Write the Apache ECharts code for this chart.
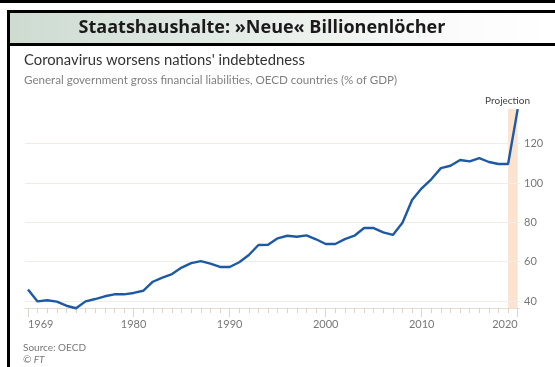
<!DOCTYPE html>
<html><head><meta charset="utf-8">
<script src="https://cdn.jsdelivr.net/npm/echarts@6/dist/echarts.min.js"></script>
<style>html,body{margin:0;padding:0;background:#fff;}#c{width:555px;height:367px;}</style>
</head><body><div id="c"></div>
<script>
var years = [];
for (var yr = 1969; yr <= 2020; yr++) years.push(yr);
var debtPctGDP = [45.9,39.8,40.4,39.7,37.6,36.3,39.8,41.0,42.4,43.4,
  43.4,44.1,45.2,49.8,51.9,53.7,57.0,59.3,60.3,59.0,
  57.3,57.3,59.7,63.4,68.5,68.6,71.9,73.2,72.7,73.4,
  71.4,69.0,69.0,71.5,73.2,77.1,77.1,74.9,73.6,79.8,
  91.4,97.3,101.9,107.6,108.8,111.7,111.0,112.7,110.7,109.7,
  109.7,137.6];
var yTicks = [40, 60, 80, 100, 120];
var xLabelYears = [1969, 1980, 1990, 2000, 2010, 2020];
var projection = [2019, 2020];

var chart = echarts.init(document.getElementById('c'));
var font = 'Lato';
var pts = years.map(function (y, i) { return [y, debtPctGDP[i]]; });
var grid = {left: 25, right: 35, top: 109, bottom: 59};

chart.setOption({
  animation: false,
  backgroundColor: '#fff',
  grid: grid,
  graphic: [
    {type: 'rect', shape: {x: 0, y: 0, width: 555, height: 3}, style: {fill: '#000'}},
    {type: 'rect', shape: {x: 10, y: 13, width: 545, height: 30},
      style: {fill: new echarts.graphic.LinearGradient(0, 0, 1, 0, [
        {offset: 0, color: '#cddbd1'}, {offset: 0.8, color: '#fafbfa'}, {offset: 1, color: '#ffffff'}])}},
    {type: 'rect', shape: {x: 7, y: 10, width: 548, height: 3}, style: {fill: '#000'}},
    {type: 'rect', shape: {x: 7, y: 43, width: 548, height: 3}, style: {fill: '#000'}},
    {type: 'rect', shape: {x: 7, y: 10, width: 3, height: 357}, style: {fill: '#000'}},
    {type: 'text', x: 262, y: 28, style: {text: 'Staatshaushalte: »Neue« Billionenlöcher',
      font: 'bold 18px "Open Sans"', fill: '#1a1a1a', align: 'center', verticalAlign: 'middle'}},
    {type: 'text', x: 24, y: 60, style: {text: "Coronavirus worsens nations' indebtedness",
      font: '14.8px Lato', fill: '#333', verticalAlign: 'middle'}},
    {type: 'text', x: 24, y: 80, style: {text: 'General government gross financial liabilities, OECD countries (% of GDP)',
      font: '11.6px Lato', fill: '#808080', verticalAlign: 'middle'}},
    {type: 'text', x: 530, y: 101, style: {text: 'Projection',
      font: '10px Lato', fill: '#444', align: 'right', verticalAlign: 'middle'}},
    {type: 'text', x: 23, y: 348, style: {text: 'Source: OECD',
      font: '10px Lato', fill: '#777', verticalAlign: 'middle'}},
    {type: 'text', x: 23, y: 360, style: {text: '© FT',
      font: 'italic 10px Lato', fill: '#777', verticalAlign: 'middle'}}
  ],
  xAxis: [{
    type: 'value', min: 1968.69, max: 2020.24, position: 'bottom',
    axisLine: {show: true, lineStyle: {color: '#e6ddd4', width: 1}},
    axisTick: {show: true, length: 5, customValues: years, lineStyle: {color: '#ddd3ca'}},
    axisLabel: {show: false},
    splitLine: {show: false}
  }, {
    type: 'value', min: 1968.69, max: 2020.24, position: 'bottom',
    axisLine: {show: false},
    axisTick: {show: true, length: 9, customValues: xLabelYears, lineStyle: {color: '#ddd3ca'}},
    axisLabel: {show: true, customValues: xLabelYears, margin: 11, color: '#777',
      fontFamily: font, fontSize: 11, alignMinLabel: 'left', alignMaxLabel: 'right',
      formatter: function (v) { return String(Math.round(v)); }},
    splitLine: {show: false}
  }],
  yAxis: {
    type: 'value', min: 36.44, max: 137.66, position: 'right',
    axisLine: {show: false}, axisTick: {show: false},
    axisLabel: {show: true, customValues: yTicks, margin: 4, color: '#777', fontFamily: font, fontSize: 11,
      formatter: function (v) { return String(Math.round(v)); }},
    splitLine: {show: false}
  },
  series: [{
    type: 'line', data: pts, xAxisIndex: 0, showSymbol: false, symbol: 'none', clip: false,
    lineStyle: {color: '#1d5aa3', width: 2.4}, z: 5,
    markArea: {silent: true, itemStyle: {color: '#fce3d0'},
      data: [[{xAxis: projection[0]}, {xAxis: projection[1]}]]},
    markLine: {silent: true, symbol: 'none', label: {show: false},
      lineStyle: {color: '#f1ece7', width: 1, type: 'solid'},
      data: yTicks.map(function (t) { return {yAxis: t}; })}
  }]
});
</script></body></html>
